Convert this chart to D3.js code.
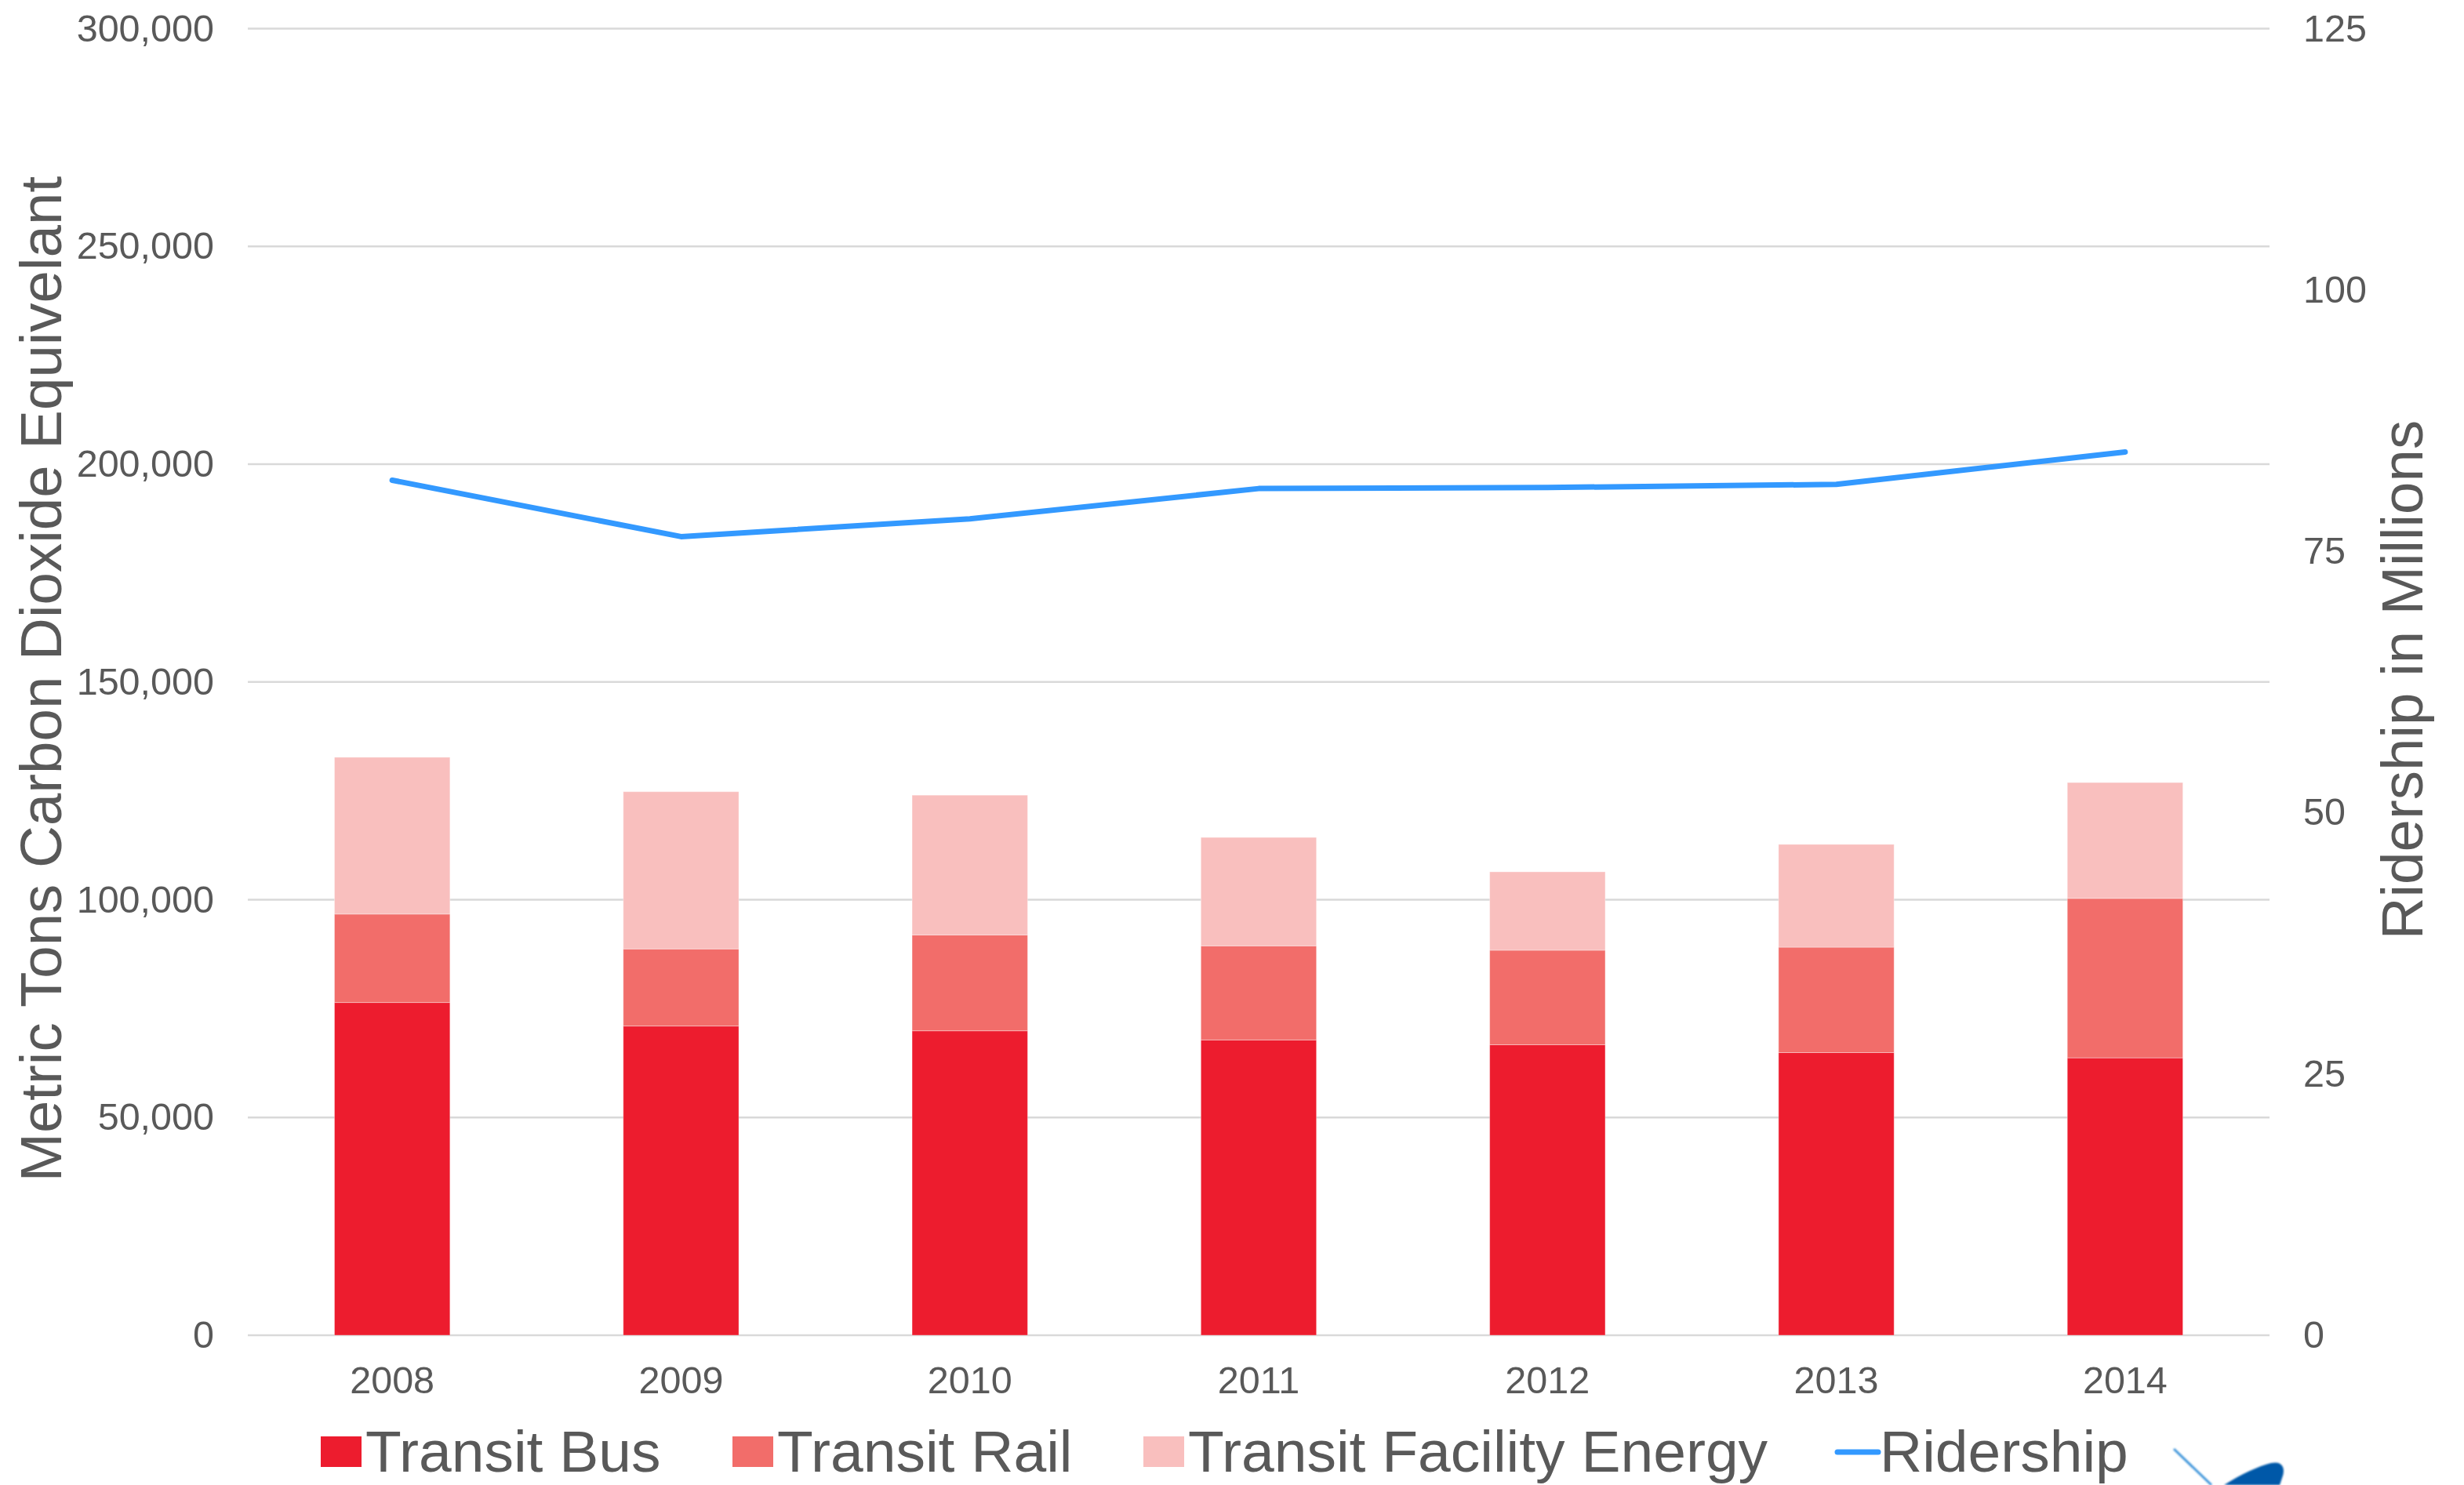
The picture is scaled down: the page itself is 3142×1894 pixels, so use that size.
<!DOCTYPE html>
<html>
<head>
<meta charset="utf-8">
<title>Transit Emissions and Ridership</title>
<script src="https://cdn.jsdelivr.net/npm/d3@7"></script>
<style>
  html, body { margin: 0; padding: 0; background: #ffffff; }
  svg { display: block; }
  text { font-family: "Liberation Sans", Arial, sans-serif; fill: #595959; }
</style>
</head>
<body>
<svg id="chart" width="3142" height="1894"></svg>
<script>
// Years on the category axis
const years = ["2008", "2009", "2010", "2011", "2012", "2013", "2014"];

// Emissions by source, metric tons CO2e
const transitBus = [76400, 71000, 69900, 67800, 66700, 64900, 63700];
const transitRail = [20300, 17700, 22000, 21600, 21700, 24200, 36600];
const transitFacilityEnergy = [36000, 36100, 32100, 24900, 18000, 23600, 26600];

// Annual ridership, millions
const ridership = [81.8, 76.4, 78.1, 81.0, 81.1, 81.4, 84.5];

// Tick values
const leftTicks = [0, 50000, 100000, 150000, 200000, 250000, 300000];
const rightTicks = [0, 25, 50, 75, 100, 125];

const seriesNames = ["Transit Bus", "Transit Rail", "Transit Facility Energy"];
const seriesColors = ["#ED1C2E", "#F26D6A", "#F9BFBE"];
const lineColor = "#3399FF";

const svg = d3.select("#chart");
const plot = { left: 316, right: 2894, top: 36.5, bottom: 1703 };

const x = d3.scaleBand().domain(years).range([plot.left, plot.right]).paddingInner(0.6).paddingOuter(0.3);
const yLeft = d3.scaleLinear().domain([0, 300000]).range([plot.bottom, plot.top]);
const yRight = d3.scaleLinear().domain([0, 125]).range([plot.bottom, plot.top]);

// Horizontal gridlines
svg.append("g").selectAll("line").data(leftTicks).join("line")
  .attr("x1", plot.left).attr("x2", plot.right)
  .attr("y1", d => yLeft(d)).attr("y2", d => yLeft(d))
  .attr("stroke", "#D9D9D9").attr("stroke-width", 2.5);

// Stacked bars
const rows = years.map((yr, i) => ({
  year: yr,
  "Transit Bus": transitBus[i],
  "Transit Rail": transitRail[i],
  "Transit Facility Energy": transitFacilityEnergy[i]
}));
const stack = d3.stack().keys(seriesNames)(rows);

svg.append("g").selectAll("g").data(stack).join("g")
  .attr("fill", (d, i) => seriesColors[i])
  .selectAll("rect").data(d => d).join("rect")
  .attr("x", d => x(d.data.year))
  .attr("width", x.bandwidth())
  .attr("y", d => yLeft(d[1]))
  .attr("height", d => yLeft(d[0]) - yLeft(d[1]))
  .attr("stroke", "#ffffff").attr("stroke-opacity", 0.35).attr("stroke-width", 1);

// Ridership line
const line = d3.line()
  .x((d, i) => x(years[i]) + x.bandwidth() / 2)
  .y(d => yRight(d));
svg.append("path").datum(ridership)
  .attr("d", line)
  .attr("fill", "none")
  .attr("stroke", lineColor)
  .attr("stroke-width", 7)
  .attr("stroke-linecap", "round")
  .attr("stroke-linejoin", "round");

const tickFont = 48.5;

// Left axis labels
const leftAxis = svg.append("g").attr("transform", `translate(${plot.left},0)`)
  .call(d3.axisLeft(yLeft).tickValues(leftTicks).tickFormat(d3.format(",")).tickSize(0).tickPadding(43));
leftAxis.select(".domain").remove();
leftAxis.selectAll("text").attr("font-size", tickFont).attr("fill", "#595959");

// Right axis labels
const rightAxis = svg.append("g").attr("transform", `translate(${plot.right},0)`)
  .call(d3.axisRight(yRight).tickValues(rightTicks).tickSize(0).tickPadding(43));
rightAxis.select(".domain").remove();
rightAxis.selectAll("text").attr("font-size", tickFont).attr("fill", "#595959");

// Bottom axis labels
const bottomAxis = svg.append("g").attr("transform", `translate(0,${plot.bottom})`)
  .call(d3.axisBottom(x).tickSize(0));
bottomAxis.select(".domain").remove();
bottomAxis.selectAll("text").attr("font-size", tickFont).attr("fill", "#595959")
  .attr("y", 74).attr("dy", 0);

svg.selectAll("g[font-family]").attr("font-family", null);
svg.selectAll("g[font-size]").attr("font-size", null);

// Axis titles
svg.append("text")
  .attr("transform", "translate(78,866) rotate(-90)")
  .attr("text-anchor", "middle")
  .attr("font-size", 74.5)
  .text("Metric Tons Carbon Dioxide Equivelant");

svg.append("text")
  .attr("transform", "translate(3089,867) rotate(-90)")
  .attr("text-anchor", "middle")
  .attr("font-size", 74.5)
  .text("Ridership in Millions");

// Legend: one slot per series, laid out left to right
const legendItems = seriesNames.map((n, i) => ({ name: n, color: seriesColors[i], type: "box" }))
  .concat([{ name: "Ridership", color: lineColor, type: "line" }]);
const legendSlots = [409, 934, 1458, 2340];
const legendBaseline = 1877;
const legend = svg.append("g");
legendItems.forEach((item, i) => {
  const lx = legendSlots[i];
  if (item.type === "box") {
    legend.append("rect").attr("x", lx).attr("y", 1832).attr("width", 52).attr("height", 39)
      .attr("fill", item.color);
  } else {
    legend.append("line").attr("x1", lx + 3).attr("x2", lx + 55)
      .attr("y1", 1852).attr("y2", 1852)
      .attr("stroke", item.color).attr("stroke-width", 7).attr("stroke-linecap", "round");
  }
  legend.append("text").attr("x", lx + 57).attr("y", legendBaseline)
    .attr("font-size", 75).text(item.name);
});

// Emblem in the lower right corner
const defs = svg.append("defs");
defs.append("filter").attr("id", "soft").append("feGaussianBlur").attr("stdDeviation", 1.2);
const emblem = svg.append("g").attr("filter", "url(#soft)");
emblem.append("line")
  .attr("x1", 2772).attr("y1", 1848).attr("x2", 2820).attr("y2", 1894)
  .attr("stroke", "#3F95DA").attr("stroke-width", 3);
emblem.append("path")
  .attr("d", "M2836,1894 C2858,1880 2880,1870 2896,1866 C2910,1863 2914,1872 2911,1882 L2907,1894 Z")
  .attr("fill", "#0059A8");
</script>
</body>
</html>
